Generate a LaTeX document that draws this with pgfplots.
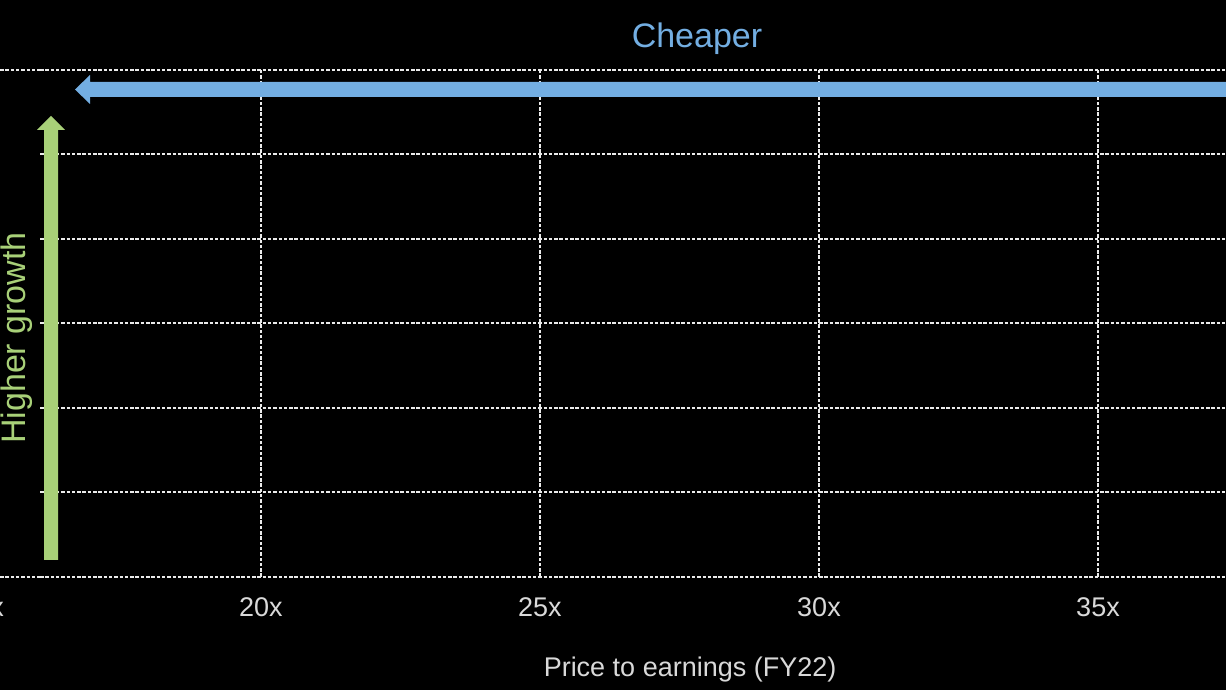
\documentclass[border=0pt]{standalone}
\usepackage{pgfplots}
\pgfplotsset{compat=1.18}
\usepackage{fontspec}
\setmainfont{Liberation Sans}
\definecolor{cheapblue}{RGB}{115,174,226}
\definecolor{growgreen}{RGB}{168,208,120}
\definecolor{labelgray}{RGB}{217,217,217}
\definecolor{gridwhite}{RGB}{235,235,235}
\tikzset{gridline/.style={gridwhite, line width=2pt, dash pattern=on 3.5pt off 1.8pt}}

\begin{document}
\begin{tikzpicture}[x=1pt,y=1pt]
\path[use as bounding box] (0,0) rectangle (1226,690);
\fill[black] (0,0) rectangle (1226,690);
\clip (0,0) rectangle (1226,690);
\begin{axis}[
    at={(40pt,113pt)}, anchor=south west,
    scale only axis, width=1337pt, height=507pt,
    xmin=16.04, xmax=40, ymin=0, ymax=6,
    xtick={20,25,30,35}, xticklabels={20x,25x,30x,35x},
    ytick={0,1,2,3,4,5,6}, yticklabels={},
    major tick length=0pt,
    axis line style={draw=none},
    grid=major,
    grid style={gridline},
    /pgf/number format/assume math mode=true,
    xticklabel style={font=\fontsize{27}{32}\selectfont, text=labelgray, anchor=base, yshift=-40pt},
    xlabel={Price to earnings (FY22)},
    xlabel style={at={(rel axis cs:0.4862,0)}, anchor=base, yshift=-100pt,
        font=\fontsize{27}{32}\selectfont, text=labelgray},
    clip=false,
]
% empty scatter: no points visible in the chart
\addplot[draw=none, forget plot] coordinates {(20,0)};
\end{axis}
% top and bottom frame lines run on to the left edge
\draw[gridline] (0,113) -- (40,113);
\draw[gridline] (0,620) -- (40,620);
\node[anchor=base, text=labelgray, font=\fontsize{27}{32}\selectfont] at (-18,73) {15x};
% direction arrows
\fill[cheapblue] (1240,593) -- (90,593) -- (90,586) -- (75,600.5) -- (90,615) -- (90,608) -- (1240,608) -- cycle;
\fill[growgreen] (44,130) -- (44,560) -- (37,560) -- (51,574) -- (65,560) -- (58,560) -- (58,130) -- cycle;
\node[anchor=base, text=cheapblue, font=\fontsize{34}{40}\selectfont] at (697,642) {Cheaper};
\node[anchor=base, rotate=90, text=growgreen, font=\fontsize{34}{40}\selectfont] at (25,352) {Higher growth};
\end{tikzpicture}
\end{document}
